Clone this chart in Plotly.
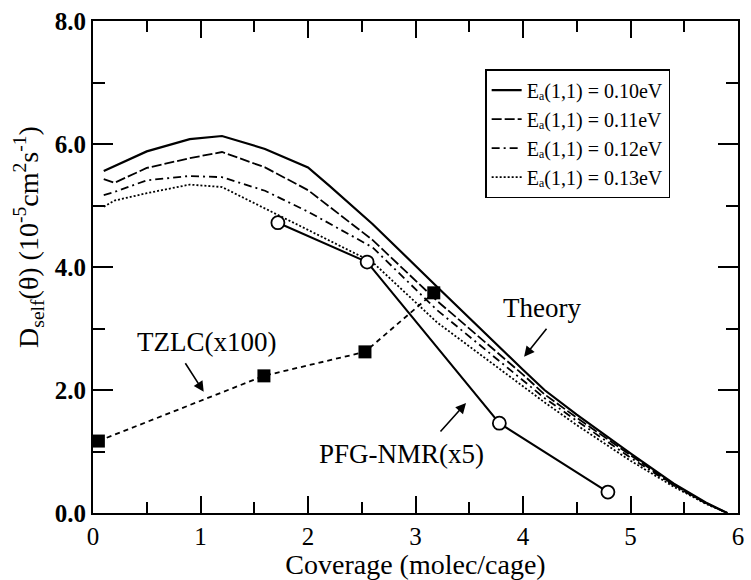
import plotly.graph_objects as go

# Theory curves (coverage grid shared)
cov = [0.1, 0.2, 0.5, 0.9, 1.2, 1.6, 2.0, 2.2, 2.6, 3.2, 3.6, 4.0, 4.2, 4.5, 5.0, 5.4, 5.7, 5.9]
d_010 = [5.56, 5.64, 5.88, 6.08, 6.13, 5.92, 5.62, 5.32, 4.70, 3.68, 3.00, 2.33, 2.00, 1.60, 0.97, 0.48, 0.17, 0.0]
d_011 = [5.43, 5.37, 5.61, 5.77, 5.87, 5.62, 5.25, 4.98, 4.44, 3.45, 2.85, 2.25, 1.93, 1.55, 0.94, 0.46, 0.16, 0.0]
d_012 = [5.17, 5.22, 5.41, 5.48, 5.46, 5.24, 4.90, 4.71, 4.32, 3.30, 2.73, 2.16, 1.87, 1.50, 0.90, 0.45, 0.16, 0.0]
d_013 = [4.98, 5.08, 5.20, 5.34, 5.30, 4.95, 4.60, 4.43, 4.08, 3.10, 2.58, 2.06, 1.80, 1.43, 0.85, 0.43, 0.15, 0.0]

# Experimental data
tzlc_x = [0.05, 1.59, 2.53, 3.17]
tzlc_y = [1.17, 2.23, 2.62, 3.58]
pfg_x = [1.72, 2.55, 3.78, 4.79]
pfg_y = [4.72, 4.08, 1.46, 0.34]

legend_names = ["Eₐ(1,1) = 0.10eV", "Eₐ(1,1) = 0.11eV",
                "Eₐ(1,1) = 0.12eV", "Eₐ(1,1) = 0.13eV"]

FONT = "Liberation Serif"

fig = go.Figure()
styles = [("solid", 2.2), ("10px,3px", 1.8), ("8px,4px,2px,4px", 1.8), ("2px,2px", 1.8)]
for ys, name, (dash, w) in zip([d_010, d_011, d_012, d_013], legend_names, styles):
    fig.add_trace(go.Scatter(x=cov, y=ys, mode="lines", name=name,
                             line=dict(color="black", width=w, dash=dash)))

fig.add_trace(go.Scatter(x=tzlc_x, y=tzlc_y, mode="lines+markers", showlegend=False,
                         line=dict(color="black", width=1.8, dash="5px,4px"),
                         marker=dict(symbol="square", size=13, color="black")))
fig.add_trace(go.Scatter(x=pfg_x, y=pfg_y, mode="lines+markers", showlegend=False,
                         line=dict(color="black", width=2),
                         marker=dict(symbol="circle", size=13, color="white",
                                     line=dict(color="black", width=1.8))))

# Text labels
fig.add_annotation(x=1.06, y=2.78, text="TZLC(x100)", showarrow=False,
                   font=dict(family=FONT, size=27, color="black"))
fig.add_annotation(x=2.87, y=0.96, text="PFG-NMR(x5)", showarrow=False,
                   font=dict(family=FONT, size=27, color="black"))
fig.add_annotation(x=4.18, y=3.33, text="Theory", showarrow=False,
                   font=dict(family=FONT, size=27, color="black"))
# Arrows
for (tx, ty, hx, hy) in [(0.85, 2.46, 1.03, 1.97), (3.22, 1.30, 3.47, 1.79), (4.23, 3.02, 4.01, 2.54)]:
    fig.add_annotation(x=hx, y=hy, ax=tx, ay=ty, xref="x", yref="y", axref="x", ayref="y",
                       text="", showarrow=True, arrowhead=2, arrowsize=1.3, arrowwidth=1.6,
                       arrowcolor="black")

# Y axis title
fig.add_annotation(x=-0.1, y=0.56, xref="paper", yref="paper", textangle=-90,
                   text="D<sub>self</sub>(θ) (10<sup>-5</sup>cm<sup>2</sup>s<sup>-1</sup>)",
                   showarrow=False, xanchor="center", yanchor="middle",
                   font=dict(family=FONT, size=28, color="black"))

fig.update_layout(
    width=751, height=580,
    margin=dict(l=93, r=7, t=21, b=67),
    paper_bgcolor="white", plot_bgcolor="white",
    font=dict(family=FONT, color="black"),
    legend=dict(x=0.608, y=0.902, xanchor="left", yanchor="top",
                bordercolor="black", borderwidth=1.5, bgcolor="white",
                font=dict(family=FONT, size=20, color="black"),
                tracegroupgap=0, itemwidth=30),
)
fig.update_xaxes(range=[0, 6], dtick=1, tick0=0, ticks="inside", ticklen=17, tickwidth=2,
                 tickcolor="black", showline=True, linewidth=2, linecolor="black",
                 mirror="allticks", showgrid=False, zeroline=False,
                 minor=dict(dtick=0.5, ticks="inside", ticklen=11, tickwidth=2, tickcolor="black"),
                 tickfont=dict(family=FONT, size=25, color="black"),
                 title=dict(text="Coverage (molec/cage)", font=dict(family=FONT, size=28, color="black"),
                            standoff=0))
fig.update_yaxes(range=[0, 8], dtick=2, tick0=0, tickformat=".1f", ticks="inside", ticklen=20,
                 tickwidth=2, tickcolor="black", showline=True, linewidth=2, linecolor="black",
                 mirror="allticks", showgrid=False, zeroline=False,
                 minor=dict(dtick=1, ticks="inside", ticklen=12, tickwidth=2, tickcolor="black"),
                 tickfont=dict(family=FONT, size=25, color="black", weight="bold"))

fig.write_html("out.html")
